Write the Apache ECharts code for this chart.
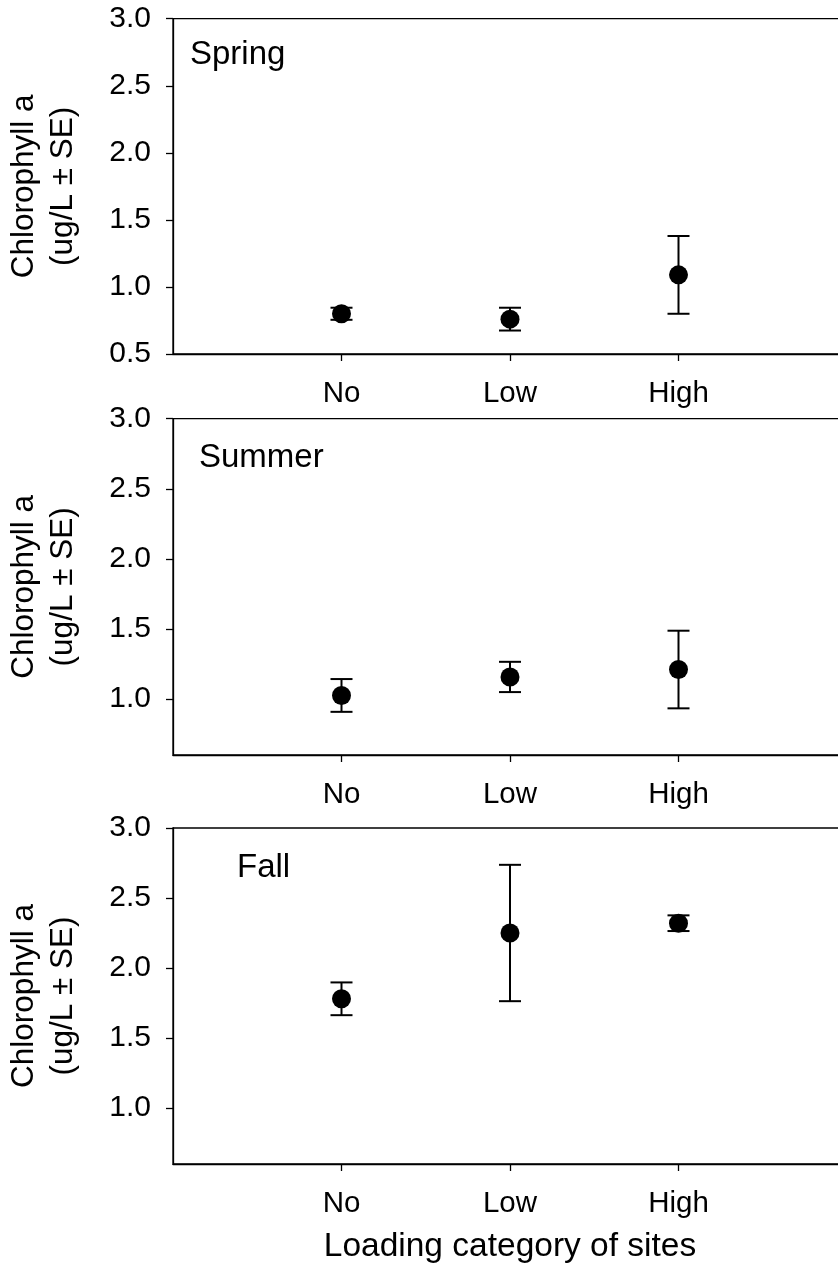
<!DOCTYPE html>
<html>
<head>
<meta charset="utf-8">
<script src="https://cdn.jsdelivr.net/npm/echarts@6/dist/echarts.min.js"></script>
<style>
html,body{margin:0;padding:0;background:#fff;}
#chart{width:838px;height:1276px;}
</style>
</head>
<body>
<div id="chart"></div>
<script>
// ---- data ----
const categories = ['No', 'Low', 'High'];
const seasons = ['Spring', 'Summer', 'Fall'];
const springMean = [0.80, 0.76, 1.09];
const springSE   = [0.045, 0.085, 0.29];
const summerMean = [1.025, 1.157, 1.21];
const summerSE   = [0.117, 0.108, 0.277];
const fallMean   = [1.78, 2.25, 2.32];
const fallSE     = [0.117, 0.487, 0.056];
const yTickValues = [0.5, 1.0, 1.5, 2.0, 2.5, 3.0];
const yMins = [0.5, 0.6, 0.6];
const yMax = 3.0;
const yTitle = 'Chlorophyll a\n(ug/L \u00B1 SE)';
const xTitle = 'Loading category of sites';

const means = [springMean, summerMean, fallMean];
const ses = [springSE, summerSE, fallSE];
// padded category axis so points sit at 1/4, 2/4, 3/4 of the axis
const xCats = [''].concat(categories, ['']);

const FONT = '"Liberation Sans", Arial, sans-serif';
const grids = [
  {left: 173, right: -9, top: 18.7, height: 335.3},
  {left: 173, right: -9, top: 418.7, height: 336.3},
  {left: 173, right: -9, top: 828, height: 336}
];
const labelPos = [
  {left: 190, top: 38},
  {left: 199, top: 441},
  {left: 237, top: 851}
];

const option = {
  backgroundColor: '#fff',
  animation: false,
  title: seasons.map((s, i) => ({
    text: s, left: labelPos[i].left, top: labelPos[i].top, padding: 0,
    textStyle: {fontFamily: FONT, fontSize: 33, fontWeight: 'normal', color: '#000'}
  })),
  grid: grids.map(g => Object.assign({show: true, borderColor: '#000', borderWidth: 1.3,
    backgroundColor: 'transparent', outerBoundsMode: 'none', containLabel: false}, g)),
  xAxis: grids.map((g, i) => ({
    type: 'category', gridIndex: i, data: xCats, boundaryGap: false,
    axisLine: {lineStyle: {color: '#000', width: 1.3}},
    axisTick: {show: true, length: 7, inside: false, alignWithLabel: true,
      interval: (idx) => idx >= 1 && idx <= categories.length,
      lineStyle: {color: '#000', width: 1.3}},
    axisLabel: {interval: 0, margin: 25, fontFamily: FONT, fontSize: 29.5, color: '#000'},
    splitLine: {show: false},
    name: i === 2 ? xTitle : '',
    nameLocation: 'middle', nameGap: 66,
    nameTextStyle: {fontFamily: FONT, fontSize: 33.5, color: '#000'}
  })),
  yAxis: grids.map((g, i) => ({
    type: 'value', gridIndex: i, min: yMins[i], max: yMax,
    axisLine: {show: true, lineStyle: {color: '#000', width: 1.3}},
    axisTick: {show: true, length: 7, inside: false, lineStyle: {color: '#000', width: 1.3},
      customValues: yTickValues.filter(v => v >= yMins[i])},
    axisLabel: {margin: 22, fontFamily: FONT, fontSize: 30, color: '#000',
      customValues: yTickValues.filter(v => v >= yMins[i]),
      formatter: v => v.toFixed(1)},
    splitLine: {show: false},
    name: yTitle, nameLocation: 'middle', nameGap: 90, nameRotate: 90,
    nameTextStyle: {fontFamily: FONT, fontSize: 31.5, color: '#000', lineHeight: 39, align: 'center'}
  })),
  series: []
};

means.forEach((m, i) => {
  const errData = categories.map((c, j) => [j + 1, m[j], ses[i][j]]);
  option.series.push({
    type: 'custom', xAxisIndex: i, yAxisIndex: i, z: 2,
    data: errData,
    renderItem: function (params, api) {
      const x = api.value(0), v = api.value(1), e = api.value(2);
      const top = api.coord([x, v + e]);
      const bot = api.coord([x, v - e]);
      const hw = 11;
      const st = {stroke: '#000', lineWidth: 2};
      return {type: 'group', children: [
        {type: 'line', shape: {x1: top[0], y1: top[1], x2: bot[0], y2: bot[1]}, style: st},
        {type: 'line', shape: {x1: top[0] - hw, y1: top[1], x2: top[0] + hw, y2: top[1]}, style: st},
        {type: 'line', shape: {x1: bot[0] - hw, y1: bot[1], x2: bot[0] + hw, y2: bot[1]}, style: st}
      ]};
    }
  });
  option.series.push({
    type: 'scatter', xAxisIndex: i, yAxisIndex: i, z: 3,
    symbol: 'circle', symbolSize: 19,
    itemStyle: {color: '#000', opacity: 1},
    data: categories.map((c, j) => [j + 1, m[j]])
  });
});

const chart = echarts.init(document.getElementById('chart'), null, {renderer: 'canvas'});
chart.setOption(option);
</script>
</body>
</html>
